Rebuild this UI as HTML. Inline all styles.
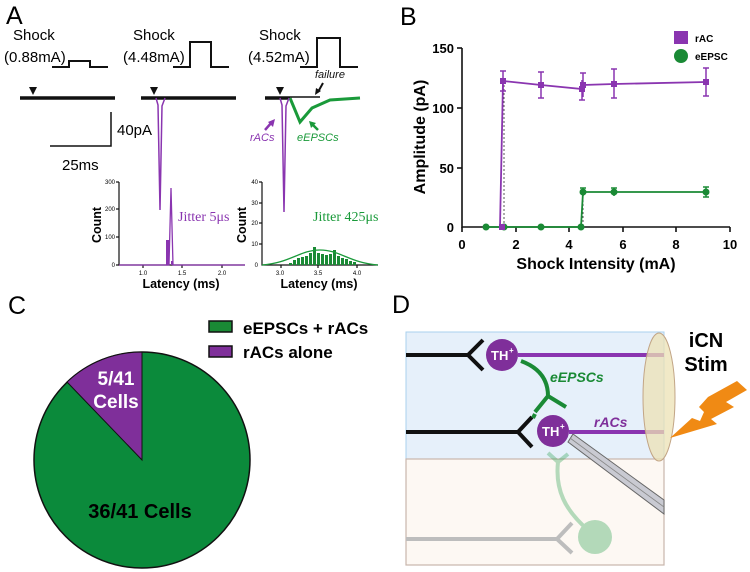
<!DOCTYPE html>
<html><head><meta charset="utf-8"><style>
html,body{margin:0;padding:0;background:#fff;}
svg{display:block;font-family:"Liberation Sans",sans-serif;}
</style></head><body>
<svg width="750" height="572" viewBox="0 0 750 572" xmlns="http://www.w3.org/2000/svg">
<!-- Panel A -->
<text x="6" y="24" font-size="25">A</text>
<g font-size="15">
<text x="13" y="40">Shock</text><text x="4" y="62">(0.88mA)</text>
<text x="133" y="40">Shock</text><text x="123" y="62">(4.48mA)</text>
<text x="259" y="40">Shock</text><text x="248" y="62">(4.52mA)</text>
</g>
<g fill="none" stroke="#111" stroke-width="2">
<polyline points="52,67 69,67 69,61 90,61 90,67 108,67"/>
<polyline points="173,67 190,67 190,42 211,42 211,67 229,67"/>
<polyline points="300,67 317,67 317,38 340,38 340,67 358,67"/>
</g>
<g fill="#111">
<polygon points="29,87 37,87 33,95"/>
<polygon points="150,87 158,87 154,95"/>
<polygon points="276,87 284,87 280,95"/>
</g>
<g stroke="#111" stroke-width="3.5">
<line x1="20" y1="98" x2="115" y2="98"/>
<line x1="141" y1="98" x2="236" y2="98"/>
<line x1="265" y1="98" x2="290" y2="98"/>
</g>
<polyline points="290,98 300,122 312,108 330,100 360,98" fill="none" stroke="#1a9a3a" stroke-width="3"/>
<line x1="290" y1="97" x2="320" y2="97" stroke="#111" stroke-width="1.5"/>
<path d="M156,98 L158,105 L160,210 L162,106 L165,98" fill="none" stroke="#8a35b0" stroke-width="1.5"/>
<path d="M280,98 L282,105 L284,212 L286,106 L289,98" fill="none" stroke="#8a35b0" stroke-width="1.5"/>
<g font-size="11" font-style="italic">
<text x="315" y="78" fill="#111">failure</text>
<text x="250" y="141" fill="#8a35b0">rACs</text>
<text x="297" y="141" fill="#1a9a3a">eEPSCs</text>
</g>
<line x1="323" y1="83" x2="318" y2="92" stroke="#111" stroke-width="2"/>
<polygon points="315,95 316,88 321,91" fill="#111"/>
<line x1="265" y1="130" x2="272" y2="122" stroke="#8a35b0" stroke-width="2.5"/>
<polygon points="275,119 268,122 273,127" fill="#8a35b0"/>
<line x1="318" y1="130" x2="312" y2="124" stroke="#1a9a3a" stroke-width="2.5"/>
<polygon points="309,121 316,123 311,128" fill="#1a9a3a"/>
<polyline points="111,112 111,146 50,146" fill="none" stroke="#111" stroke-width="1.5"/>
<text x="117" y="135" font-size="15">40pA</text>
<text x="62" y="170" font-size="15">25ms</text>
<!-- hist 1 -->
<g stroke="#111" stroke-width="1.2" fill="none">
<polyline points="119,182 119,265 245,265"/>
<line x1="116" y1="182" x2="119" y2="182"/><line x1="116" y1="237" x2="119" y2="237"/><line x1="116" y1="209" x2="119" y2="209"/><line x1="116" y1="265" x2="119" y2="265"/>
<line x1="143" y1="265" x2="143" y2="268"/><line x1="182" y1="265" x2="182" y2="268"/><line x1="222" y1="265" x2="222" y2="268"/>
</g>
<g font-size="6" text-anchor="end"><text x="115" y="184">300</text><text x="115" y="211">200</text><text x="115" y="239">100</text><text x="115" y="267">0</text></g>
<g font-size="6" text-anchor="middle"><text x="143" y="275">1.0</text><text x="182" y="275">1.5</text><text x="222" y="275">2.0</text></g>
<text x="181" y="288" font-size="12.5" font-weight="bold" text-anchor="middle">Latency (ms)</text>
<text transform="translate(101,225) rotate(-90)" font-size="12.5" font-weight="bold" text-anchor="middle">Count</text>
<rect x="166" y="240" width="3" height="25" fill="#8a35b0"/><rect x="171" y="261" width="2" height="4" fill="#8a35b0"/>
<path d="M119,265 L166,265 L169,265 L171,188 L173,265 L245,265" fill="none" stroke="#8a35b0" stroke-width="1.3"/>
<text x="178" y="221" font-size="14" fill="#8a35b0" font-family="Liberation Serif,serif">Jitter 5μs</text>
<!-- hist 2 -->
<g stroke="#111" stroke-width="1.2" fill="none">
<polyline points="262,182 262,265 378,265"/>
<line x1="259" y1="182" x2="262" y2="182"/><line x1="259" y1="203" x2="262" y2="203"/><line x1="259" y1="223" x2="262" y2="223"/><line x1="259" y1="244" x2="262" y2="244"/>
<line x1="281" y1="265" x2="281" y2="268"/><line x1="318" y1="265" x2="318" y2="268"/><line x1="357" y1="265" x2="357" y2="268"/>
</g>
<g font-size="6" text-anchor="end"><text x="258" y="184">40</text><text x="258" y="205">30</text><text x="258" y="225">20</text><text x="258" y="246">10</text><text x="258" y="267">0</text></g>
<g font-size="6" text-anchor="middle"><text x="280" y="275">3.0</text><text x="318" y="275">3.5</text><text x="357" y="275">4.0</text></g>
<text x="319" y="288" font-size="12.5" font-weight="bold" text-anchor="middle">Latency (ms)</text>
<text transform="translate(246,225) rotate(-90)" font-size="12.5" font-weight="bold" text-anchor="middle">Count</text>
<g fill="#1a8a35">
<rect x="289" y="263" width="3" height="2"/><rect x="293" y="260" width="3" height="5"/><rect x="297" y="258" width="3" height="7"/><rect x="301" y="257" width="3" height="8"/><rect x="305" y="256" width="3" height="9"/><rect x="309" y="253" width="3" height="12"/><rect x="313" y="247" width="3" height="18"/><rect x="317" y="253" width="3" height="12"/><rect x="321" y="254" width="3" height="11"/><rect x="325" y="255" width="3" height="10"/><rect x="329" y="254" width="3" height="11"/><rect x="333" y="250" width="3" height="15"/><rect x="337" y="256" width="3" height="9"/><rect x="341" y="258" width="3" height="7"/><rect x="345" y="259" width="3" height="6"/><rect x="349" y="261" width="3" height="4"/><rect x="353" y="262" width="3" height="3"/>
</g>
<path d="M262,265 C290,263 300,250 320,250 C340,250 350,263 378,265" fill="none" stroke="#1a9a3a" stroke-width="1.3"/>
<text x="313" y="221" font-size="14" fill="#1a9a3a" font-family="Liberation Serif,serif">Jitter 425μs</text>

<!-- Panel B -->
<text x="400" y="25" font-size="25">B</text>
<rect x="674" y="31" width="14" height="13" fill="#8a35b0"/>
<circle cx="681" cy="56" r="7" fill="#1a8a35"/>
<text x="695" y="42" font-size="10" font-weight="bold">rAC</text>
<text x="695" y="60" font-size="10" font-weight="bold">eEPSC</text>
<g stroke="#111" stroke-width="1.6" fill="none">
<polyline points="462,48 462,227 730,227"/>
<line x1="457" y1="48" x2="462" y2="48"/><line x1="457" y1="108" x2="462" y2="108"/><line x1="457" y1="168" x2="462" y2="168"/>
<line x1="462" y1="227" x2="462" y2="232"/><line x1="516" y1="227" x2="516" y2="232"/><line x1="569" y1="227" x2="569" y2="232"/><line x1="623" y1="227" x2="623" y2="232"/><line x1="676" y1="227" x2="676" y2="232"/><line x1="730" y1="227" x2="730" y2="232"/>
</g>
<g font-size="13" font-weight="bold" text-anchor="end"><text x="454" y="53">150</text><text x="454" y="113">100</text><text x="454" y="173">50</text><text x="454" y="232">0</text></g>
<g font-size="13" font-weight="bold" text-anchor="middle"><text x="462" y="249">0</text><text x="516" y="249">2</text><text x="569" y="249">4</text><text x="623" y="249">6</text><text x="676" y="249">8</text><text x="730" y="249">10</text></g>
<text x="596" y="269" font-size="16" font-weight="bold" text-anchor="middle">Shock Intensity (mA)</text>
<text transform="translate(425,137) rotate(-90)" font-size="16" font-weight="bold" text-anchor="middle">Amplitude (pA)</text>
<line x1="504" y1="81" x2="504" y2="227" stroke="#555" stroke-width="1" stroke-dasharray="2,2"/>
<line x1="583" y1="192" x2="583" y2="227" stroke="#555" stroke-width="1" stroke-dasharray="2,2"/>
<polyline points="486,227 500,227 504,227 541,227 581,227 583,192 614,192 706,192" fill="none" stroke="#1a8a35" stroke-width="1.8"/>
<g fill="#1a8a35"><circle cx="486" cy="227" r="3.5"/><circle cx="504" cy="227" r="3.5"/><circle cx="541" cy="227" r="3.5"/><circle cx="581" cy="227" r="3.5"/><circle cx="583" cy="192" r="3.5"/><circle cx="614" cy="192" r="3.5"/><circle cx="706" cy="192" r="3.5"/></g>
<g stroke="#1a8a35" stroke-width="1.5"><line x1="583" y1="188" x2="583" y2="196"/><line x1="580" y1="188" x2="586" y2="188"/><line x1="614" y1="188" x2="614" y2="196"/><line x1="611" y1="188" x2="617" y2="188"/><line x1="706" y1="187" x2="706" y2="197"/><line x1="703" y1="187" x2="709" y2="187"/><line x1="703" y1="197" x2="709" y2="197"/></g>
<polyline points="500,227 503,81 541,85 582,89 583,85 614,84 706,82" fill="none" stroke="#8a35b0" stroke-width="1.8"/>
<g fill="#8a35b0"><rect x="499" y="224" width="6" height="6"/><rect x="500" y="78" width="6" height="6"/><rect x="538" y="82" width="6" height="6"/><rect x="579" y="86" width="6" height="6"/><rect x="580" y="82" width="6" height="6"/><rect x="611" y="81" width="6" height="6"/><rect x="703" y="79" width="6" height="6"/></g>
<g stroke="#8a35b0" stroke-width="1.5" fill="none">
<path d="M503,71 V91 M500,71 H506 M500,91 H506"/>
<path d="M541,72 V98 M538,72 H544 M538,98 H544"/>
<path d="M582,80 V100 M579,100 H585"/>
<path d="M583,73 V97 M580,73 H586"/>
<path d="M614,69 V98 M611,69 H617 M611,98 H617"/>
<path d="M706,68 V96 M703,68 H709 M703,96 H709"/>
</g>

<!-- Panel C -->
<text x="8" y="314" font-size="25">C</text>
<rect x="209" y="321" width="23" height="11" fill="#1a8a35" stroke="#111" stroke-width="1.5"/>
<rect x="209" y="346" width="23" height="11" fill="#7f2f9a" stroke="#111" stroke-width="1.5"/>
<text x="243" y="334" font-size="17" font-weight="bold">eEPSCs + rACs</text>
<text x="243" y="358" font-size="17" font-weight="bold">rACs alone</text>
<circle cx="142" cy="460" r="108" fill="#0b8a3b" stroke="#111" stroke-width="1.5"/>
<path d="M142,460 L142,352 A108,108 0 0,0 67,382 Z" fill="#7f2f9a" stroke="#111" stroke-width="1"/>
<g font-size="19" font-weight="bold" fill="#fff" text-anchor="middle"><text x="116" y="385">5/41</text><text x="116" y="408">Cells</text></g>
<text x="140" y="518" font-size="20" font-weight="bold" text-anchor="middle">36/41 Cells</text>

<!-- Panel D -->
<text x="392" y="313" font-size="25">D</text>
<rect x="406" y="332" width="258" height="127" fill="#e6f0fa" stroke="#a9d0ee" stroke-width="1"/>
<rect x="406" y="459" width="258" height="106" fill="#fdf8f3" stroke="#c8b6ac" stroke-width="1.2"/>
<g opacity="0.35">
<path d="M548,453 L558,462 L568,454 M558,462 C555,490 565,510 588,530" fill="none" stroke="#2ba050" stroke-width="4"/>
<circle cx="595" cy="537" r="17" fill="#2ba050"/>
</g>
<g stroke="#bdbdbd" stroke-width="4" fill="none"><path d="M406,539 L557,539 M572,523 L557,539 L572,553"/></g>
<g stroke="#111" stroke-width="4" fill="none">
<path d="M406,355 L468,355 M483,340 L468,355 L483,370"/>
<path d="M406,432 L518,432 M532,417 L518,432 L532,447"/>
</g>
<path d="M521,361 C540,368 548,380 548,396 M535,412 L548,396 L566,407" fill="none" stroke="#1a8a35" stroke-width="4"/>
<line x1="535" y1="414" x2="533" y2="418" stroke="#1a8a35" stroke-width="4"/>
<polygon points="573,434 664,500 664,514 568,442" fill="#c9cad2" stroke="#666" stroke-width="1"/>
<line x1="570" y1="438" x2="664" y2="507" stroke="#888" stroke-width="0.8"/>
<line x1="518" y1="355" x2="664" y2="355" stroke="#8a35b0" stroke-width="4"/>
<line x1="569" y1="432" x2="664" y2="432" stroke="#8a35b0" stroke-width="4"/>
<circle cx="502" cy="355" r="16" fill="#7f2f9a"/>
<circle cx="553" cy="431" r="16" fill="#7f2f9a"/>
<g fill="#fff" font-weight="bold" font-size="13"><text x="491" y="360">TH</text><text x="509" y="353" font-size="8">+</text><text x="542" y="436">TH</text><text x="560" y="429" font-size="8">+</text></g>
<text x="550" y="382" font-size="14" font-weight="bold" font-style="italic" fill="#1a8a35">eEPSCs</text>
<text x="594" y="427" font-size="14" font-weight="bold" font-style="italic" fill="#7f2f9a">rACs</text>
<ellipse cx="659" cy="397" rx="16" ry="64" fill="#ece1b4" fill-opacity="0.75" stroke="#c2a586" stroke-width="1"/>
<text x="706" y="347" font-size="20" font-weight="bold" text-anchor="middle">iCN</text>
<text x="706" y="371" font-size="20" font-weight="bold" text-anchor="middle">Stim</text>
<polygon points="708,397 737,381 747,390 726,402 734,407 711,419 717,424 670,438 692,418 700,421 704,412 699,407" fill="#f08a14"/>
</svg>
</body></html>
